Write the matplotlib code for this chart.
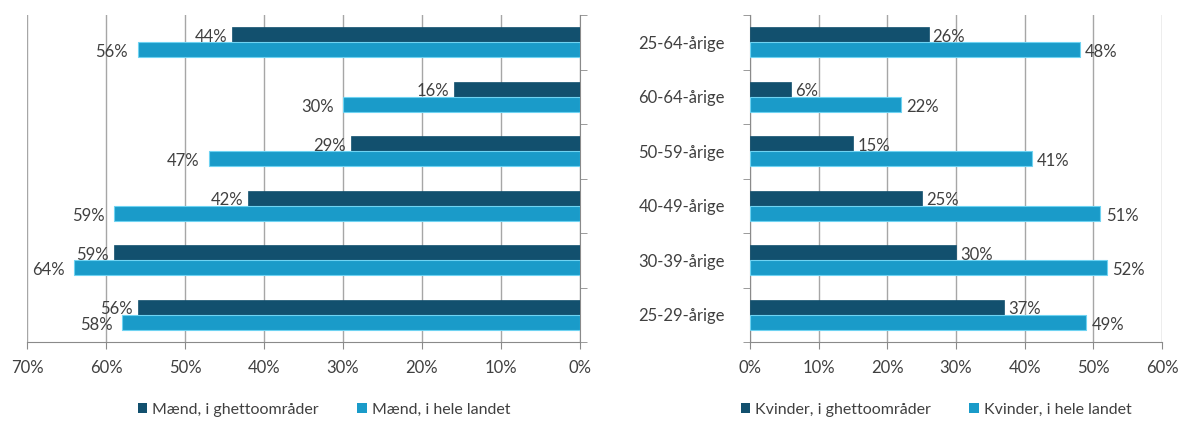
import matplotlib.pyplot as plt
from matplotlib.patches import Patch
import numpy as np

plt.rcParams['font.family'] = ['Lato', 'DejaVu Sans']

# Kategorier, oppefra og ned
aldersgrupper = ['25-64-årige', '60-64-årige', '50-59-årige',
                 '40-49-årige', '30-39-årige', '25-29-årige']

maend_ghetto = [44, 16, 29, 42, 59, 56]
maend_landet = [56, 30, 47, 59, 64, 58]
kvinder_ghetto = [26, 6, 15, 25, 30, 37]
kvinder_landet = [48, 22, 41, 51, 52, 49]

legend_maend = ['Mænd, i ghettoområder', 'Mænd, i hele landet']
legend_kvinder = ['Kvinder, i ghettoområder', 'Kvinder, i hele landet']

MORK = '#12506e'
LYS = '#1a9bc9'
KANT = '#6fd3f2'
TEKST = '#404040'
GRID = '#a6a6a6'
AKSE = '#8a8a8a'

fig = plt.figure(figsize=(11.81, 4.21), dpi=100)
ax_m = fig.add_axes([27 / 1181, 1 - 342 / 421, (580 - 27) / 1181, (342 - 15) / 421])
ax_k = fig.add_axes([750 / 1181, 1 - 342 / 421, (1162 - 750) / 1181, (342 - 15) / 421])

y = np.arange(len(aldersgrupper))
h = 0.275


def tegn(ax, ghetto, landet, xmax, venstre):
    ax.barh(y - h / 2, ghetto, height=h, color=MORK, edgecolor=MORK, linewidth=0.5, zorder=3)
    ax.barh(y + h / 2, landet, height=h, color=LYS, edgecolor=KANT, linewidth=0.8, zorder=3)

    ha = 'right' if venstre else 'left'
    for yy, v in zip(y - h / 2, ghetto):
        ax.text(v + (0.6 if venstre else 0.6), yy + 0.04, f'{v}%', ha=ha, va='center',
                fontsize=12, color=TEKST, zorder=4)
    for yy, v in zip(y + h / 2, landet):
        ax.text(v + (1.2 if venstre else 0.8), yy + 0.05, f'{v}%', ha=ha, va='center',
                fontsize=12, color=TEKST, zorder=4)

    ax.set_xlim(0, xmax)
    ax.set_ylim(len(y) - 0.5, -0.5)
    ax.set_xticks(np.arange(0, xmax + 1, 10))
    ax.set_xticklabels([f'{t}%' for t in range(0, xmax + 1, 10)], fontsize=12, color=TEKST)
    ax.tick_params(axis='x', direction='out', length=5, color=AKSE, pad=8)
    ax.grid(axis='x', color=GRID, linewidth=1, zorder=0)
    ax.set_axisbelow(True)

    ax.spines['top'].set_visible(False)
    ax.spines['bottom'].set_color(AKSE)


tegn(ax_m, maend_ghetto, maend_landet, 70, True)
ax_m.invert_xaxis()
ax_m.spines['left'].set_visible(False)
ax_m.spines['right'].set_color(AKSE)
ax_m.yaxis.tick_right()
ax_m.set_yticks([])
# skillestreger mellem kategorierne
ax_m.set_yticks(np.arange(-0.5, len(y)), minor=True)
ax_m.tick_params(axis='y', which='minor', direction='out', length=5, color=AKSE,
                 right=True, left=False)

tegn(ax_k, kvinder_ghetto, kvinder_landet, 60, False)
ax_k.spines['right'].set_visible(False)
ax_k.spines['left'].set_color(AKSE)
ax_k.set_yticks(y)
ax_k.set_yticklabels(aldersgrupper, fontsize=12, color=TEKST)
ax_k.tick_params(axis='y', which='major', length=0, pad=18)
ax_k.set_yticks(np.arange(-0.5, len(y)), minor=True)
ax_k.tick_params(axis='y', which='minor', direction='out', length=5, color=AKSE)

for navne, cx in [(legend_maend, 324 / 1181), (legend_kvinder, 936 / 1181)]:
    handles = [Patch(facecolor=MORK), Patch(facecolor=LYS)]
    fig.legend(handles, navne, loc='center', bbox_to_anchor=(cx, 1 - 410 / 421),
               ncol=2, frameon=False, fontsize=11.5, handlelength=0.6, handleheight=0.6,
               handletextpad=0.3, columnspacing=2.4, labelcolor=TEKST)

fig.savefig('out.png', dpi=100, facecolor='white')
